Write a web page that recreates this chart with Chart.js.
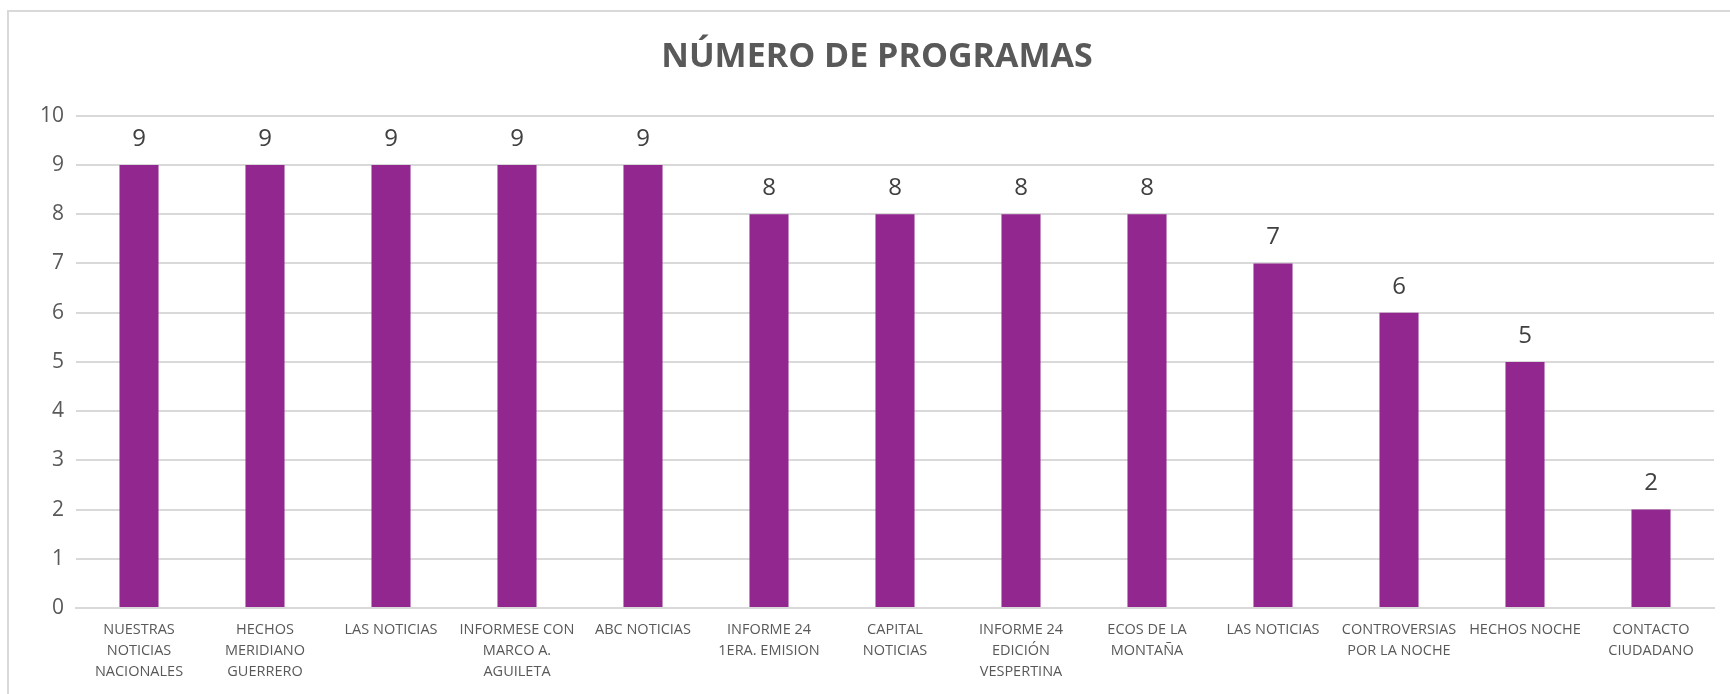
<!DOCTYPE html>
<html>
<head>
<meta charset="utf-8">
<script src="https://cdn.jsdelivr.net/npm/chart.js@4/dist/chart.umd.min.js"></script>
<style>
  html, body { margin: 0; padding: 0; background: #fff; overflow: hidden; }
  #frame { position: absolute; left: 7px; top: 10px; width: 1740px; height: 700px;
           border: 2px solid #d9d9d9; box-sizing: border-box; }
  #chart { position: absolute; left: 0; top: 0; }
</style>
</head>
<body>
<div id="frame"></div>
<canvas id="chart" width="1730" height="694"></canvas>
<script>
'use strict';

// programas de noticias
const CATEGORIES = [
  ['NUESTRAS', 'NOTICIAS', 'NACIONALES'],
  ['HECHOS', 'MERIDIANO', 'GUERRERO'],
  'LAS NOTICIAS',
  ['INFORMESE CON', 'MARCO A.', 'AGUILETA'],
  'ABC NOTICIAS',
  ['INFORME 24', '1ERA. EMISION'],
  ['CAPITAL', 'NOTICIAS'],
  ['INFORME 24', 'EDICIÓN', 'VESPERTINA'],
  ['ECOS DE LA', 'MONTAÑA'],
  'LAS NOTICIAS',
  ['CONTROVERSIAS', 'POR LA NOCHE'],
  'HECHOS NOCHE',
  ['CONTACTO', 'CIUDADANO'],
];
const PROGRAMAS = [9, 9, 9, 9, 9, 8, 8, 8, 8, 7, 6, 5, 2];
const Y_TICKS = [0, 1, 2, 3, 4, 5, 6, 7, 8, 9, 10];

const FONT = "'Open Sans', 'Noto Sans', sans-serif";

// etiquetas de valor encima de cada barra
const valueLabels = {
  id: 'valueLabels',
  afterDatasetsDraw(chart) {
    const ctx = chart.ctx;
    const meta = chart.getDatasetMeta(0);
    ctx.save();
    ctx.font = '24px ' + FONT;
    ctx.fillStyle = '#404040';
    ctx.textAlign = 'center';
    ctx.textBaseline = 'middle';
    meta.data.forEach((bar, i) => {
      ctx.fillText(String(PROGRAMAS[i]), bar.x, bar.y - 26);
    });
    ctx.restore();
  }
};

new Chart(document.getElementById('chart'), {
  type: 'bar',
  data: {
    labels: CATEGORIES,
    datasets: [{
      data: PROGRAMAS,
      backgroundColor: '#92278f',
      borderWidth: 0,
      categoryPercentage: 1,
      barPercentage: 0.31,
    }]
  },
  options: {
    responsive: false,
    animation: false,
    layout: { padding: { left: 40, right: 16, top: 0, bottom: 0 } },
    plugins: {
      legend: { display: false },
      tooltip: { enabled: false },
      title: {
        display: true,
        text: 'NÚMERO DE PROGRAMAS',
        color: '#595959',
        font: { family: FONT, size: 34, weight: 'bold' },
        padding: { top: 37, bottom: 38 },
      },
    },
    scales: {
      x: {
        grid: { display: false },
        border: { color: '#d9d9d9', width: 2 },
        ticks: {
          color: '#595959',
          font: { family: FONT, size: 14.5, lineHeight: 1.45 },
          maxRotation: 0,
          autoSkip: false,
          padding: 3,
        },
        afterFit(scale) { scale.height = 86; },
      },
      y: {
        min: 0,
        max: 10,
        afterBuildTicks(scale) { scale.ticks = Y_TICKS.map(v => ({ value: v })); },
        grid: { color: '#d9d9d9', lineWidth: 2, drawTicks: false },
        border: { display: false },
        ticks: {
          color: '#595959',
          font: { family: FONT, size: 21 },
          padding: 12,
        },
        afterFit(scale) { scale.width = 36; },
      },
    },
  },
  plugins: [valueLabels],
});
</script>
</body>
</html>
